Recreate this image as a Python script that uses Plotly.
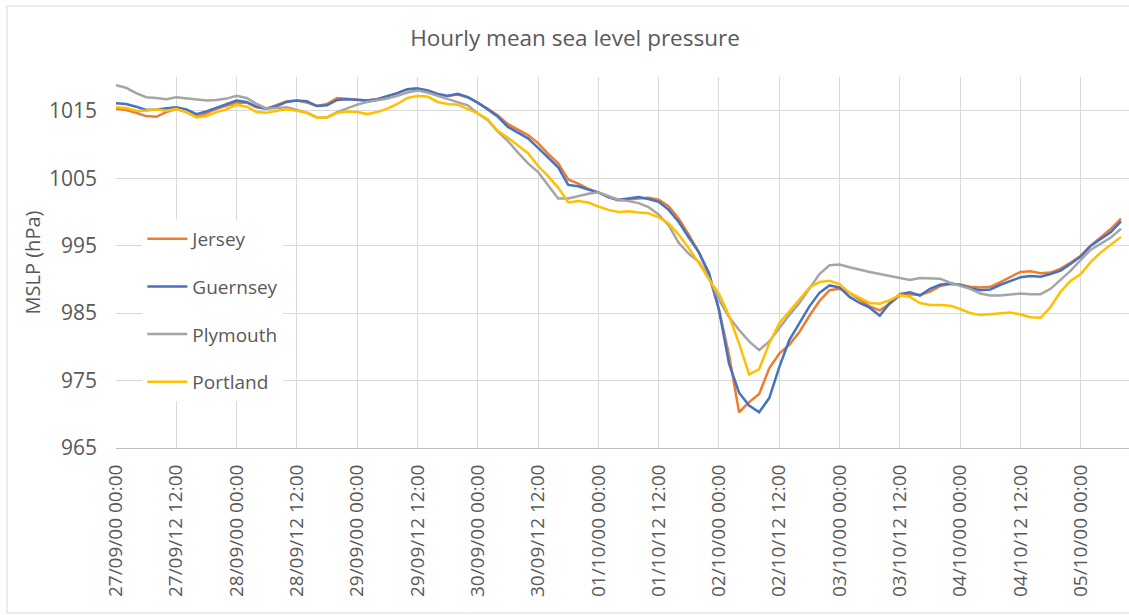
import plotly.graph_objects as go

# hours since 27/09 00:00 (2-hourly readings)
hours = list(range(0, 201, 2))

jersey = [
    1015.3, 1015.1, 1014.7, 1014.2, 1014.1, 1014.8, 1015.3, 1014.8, 1014.1, 1014.6,
    1015.3, 1015.8, 1016.2, 1016.2, 1015.5, 1015.3, 1015.8, 1016.4, 1016.5, 1016.2,
    1015.7, 1016.0, 1016.9, 1016.8, 1016.6, 1016.5, 1016.7, 1017.1, 1017.6, 1018.2,
    1018.3, 1018.0, 1017.5, 1017.2, 1017.4, 1017.0, 1016.2, 1015.3, 1014.3, 1013.0,
    1012.2, 1011.4, 1010.2, 1008.6, 1007.2, 1004.8, 1004.2, 1003.4, 1002.9, 1002.2,
    1001.7, 1001.9, 1002.0, 1002.1, 1001.8, 1000.8, 999.0, 996.6, 994.0, 990.6,
    985.5, 978.8, 970.3, 971.8, 973.0, 976.8, 979.0, 980.3, 982.2, 984.6,
    986.8, 988.4, 988.6, 988.0, 987.0, 986.0, 985.4, 986.4, 987.6, 987.8,
    987.7, 988.2, 989.0, 989.3, 989.2, 988.9, 988.8, 988.9, 989.6, 990.4,
    991.1, 991.2, 990.9, 991.0, 991.6, 992.5, 993.5, 995.0, 996.2, 997.5,
    999.0,
]

guernsey = [
    1016.1, 1016.0, 1015.6, 1015.1, 1015.2, 1015.3, 1015.5, 1015.2, 1014.5, 1014.9,
    1015.4, 1015.9, 1016.5, 1016.3, 1015.6, 1015.3, 1015.7, 1016.3, 1016.5, 1016.4,
    1015.7, 1015.8, 1016.6, 1016.7, 1016.6, 1016.5, 1016.7, 1017.1, 1017.6, 1018.2,
    1018.3, 1018.0, 1017.5, 1017.2, 1017.5, 1017.0, 1016.2, 1015.2, 1014.1, 1012.6,
    1011.8, 1010.9, 1009.5, 1008.1, 1006.6, 1004.0, 1003.8, 1003.3, 1002.9, 1002.2,
    1001.8, 1002.0, 1002.2, 1001.9, 1001.5, 1000.3, 998.5, 996.2, 994.0, 991.0,
    985.5, 977.5, 973.2, 971.3, 970.3, 972.4, 977.0, 981.0, 983.5, 986.0,
    988.0, 989.1, 988.8, 987.4, 986.5, 985.8, 984.6, 986.5, 987.8, 988.1,
    987.6, 988.6, 989.2, 989.4, 989.2, 988.7, 988.4, 988.5, 989.2, 989.8,
    990.3, 990.5, 990.4, 990.8, 991.3, 992.3, 993.4, 995.0, 996.0, 997.0,
    998.6,
]

plymouth = [
    1018.8, 1018.4, 1017.6, 1017.0, 1016.9, 1016.7, 1017.0, 1016.8, 1016.6, 1016.5,
    1016.6, 1016.8, 1017.2, 1016.9, 1016.0, 1015.3, 1015.4, 1015.5, 1015.1, 1014.7,
    1014.0, 1014.0, 1014.8, 1015.4, 1015.9, 1016.3, 1016.5, 1016.8, 1017.2, 1017.7,
    1018.0, 1017.7, 1017.2, 1016.7, 1016.3, 1015.8, 1014.6, 1013.6, 1011.9, 1010.5,
    1008.8, 1007.2, 1005.9, 1004.0, 1002.0, 1002.0, 1002.4, 1002.7, 1002.9, 1002.3,
    1001.8, 1001.6, 1001.3, 1000.7, 999.6, 998.0, 995.4, 993.8, 992.6, 990.2,
    987.0, 984.4, 982.5, 980.8, 979.5, 980.8, 982.8, 984.7, 986.5, 988.6,
    990.8, 992.1, 992.2, 991.8, 991.4, 991.1, 990.8, 990.5, 990.2, 989.9,
    990.2, 990.1, 990.1, 989.5, 989.0, 988.6, 987.9, 987.6, 987.6, 987.8,
    987.9, 987.8, 987.8, 988.6, 989.9, 991.3, 992.9, 994.4, 995.3, 996.2,
    997.5,
]

portland = [
    1015.5, 1015.4, 1015.0, 1015.0, 1015.2, 1015.0, 1015.3, 1014.8, 1014.0, 1014.2,
    1014.8, 1015.2, 1015.9, 1015.6, 1014.8, 1014.7, 1015.0, 1015.2, 1015.0, 1014.7,
    1014.0, 1014.0, 1014.7, 1014.9, 1014.8, 1014.5, 1014.8, 1015.3, 1016.0, 1016.9,
    1017.2, 1017.1, 1016.3, 1016.0, 1015.9, 1015.3, 1014.6, 1013.7, 1012.0, 1011.0,
    1009.8, 1008.7, 1006.8, 1005.3, 1003.6, 1001.4, 1001.6, 1001.4, 1000.8, 1000.3,
    1000.0, 1000.1, 999.9, 999.8, 999.2, 998.3, 996.6, 994.6, 992.4, 990.0,
    987.9, 984.6, 980.5, 975.9, 976.7, 980.5, 983.5, 985.2, 987.0, 988.8,
    989.6, 989.8, 989.3, 988.0, 987.2, 986.5, 986.4, 986.9, 987.7, 987.4,
    986.5, 986.2, 986.2, 986.1, 985.6, 985.0, 984.7, 984.8, 984.9, 985.1,
    984.8, 984.4, 984.3, 985.9, 988.2, 989.8, 990.8, 992.6, 994.0, 995.1,
    996.3,
]

tick_hours = list(range(0, 193, 12))
tick_labels = [
    "27/09/00 00:00", "27/09/12 12:00", "28/09/00 00:00", "28/09/12 12:00",
    "29/09/00 00:00", "29/09/12 12:00", "30/09/00 00:00", "30/09/12 12:00",
    "01/10/00 00:00", "01/10/12 12:00", "02/10/00 00:00", "02/10/12 12:00",
    "03/10/00 00:00", "03/10/12 12:00", "04/10/00 00:00", "04/10/12 12:00",
    "05/10/00 00:00",
]
y_ticks = [965, 975, 985, 995, 1005, 1015]

series = [
    ("Jersey", jersey, "#ED7D31"),
    ("Guernsey", guernsey, "#4472C4"),
    ("Plymouth", plymouth, "#A5A5A5"),
    ("Portland", portland, "#FFC000"),
]

FONT = "Open Sans"
TXT = "#595959"
GRID = "#D9D9D9"

W, H = 1129, 615
L, T = 116, 77
PLOT_BOTTOM = 448
PLOT_W = W - L
B = H - PLOT_BOTTOM
PLOT_H = PLOT_BOTTOM - T

fig = go.Figure()
for name, vals, col in series:
    fig.add_trace(go.Scatter(
        x=hours, y=vals, mode="lines", name=name, legendgroup=name,
        line=dict(color=col, width=2.5),
    ))

fig.update_layout(
    width=W, height=H,
    margin=dict(l=L, r=0, t=T, b=B, pad=0),
    paper_bgcolor="white", plot_bgcolor="white",
    font=dict(family=FONT, color=TXT, size=19),
    title=dict(text="Hourly mean sea level pressure", x=575 / W, xanchor="center",
               y=1 - 38 / H, yanchor="middle",
               font=dict(family=FONT, size=22.5, color=TXT)),
    showlegend=True,
    hovermode=False,
    legend=dict(x=0.026, y=0.615, xanchor="left", yanchor="top",
                bgcolor="white", borderwidth=0, traceorder="grouped",
                itemwidth=40,
                tracegroupgap=20, font=dict(family=FONT, size=19, color=TXT)),
    xaxis=dict(range=[0, 201.6], tickmode="array", tickvals=tick_hours,
               ticktext=tick_labels, tickangle=-90, showgrid=True,
               gridcolor=GRID, gridwidth=1, zeroline=False, showline=True,
               linecolor="#BFBFBF", linewidth=1, ticks="",
               ticklabelstandoff=8,
               tickfont=dict(family=FONT, size=19, color=TXT)),
    yaxis=dict(range=[965, 1020], tickmode="array", tickvals=y_ticks,
               showgrid=True, gridcolor=GRID, gridwidth=1, zeroline=False,
               showline=False, ticks="", ticklabelstandoff=18,
               tickfont=dict(family=FONT, size=21, color=TXT),
               title=dict(text="MSLP (hPa)", standoff=2,
                          font=dict(family=FONT, size=20, color=TXT))),
)

# outer chart border
fig.add_shape(type="rect", xref="paper", yref="paper",
              x0=(7 - L) / PLOT_W, x1=1.05,
              y0=-(613 - PLOT_BOTTOM) / PLOT_H, y1=(PLOT_BOTTOM - 6) / PLOT_H,
              line=dict(color=GRID, width=1), fillcolor="rgba(0,0,0,0)", layer="below")

# remove the default 8px page margin so the figure fills the window exactly
fig.write_html(
    "out.html",
    config={"displayModeBar": False, "staticPlot": True},
    post_script="document.body.style.margin='0';document.body.style.overflow='hidden';",
)
